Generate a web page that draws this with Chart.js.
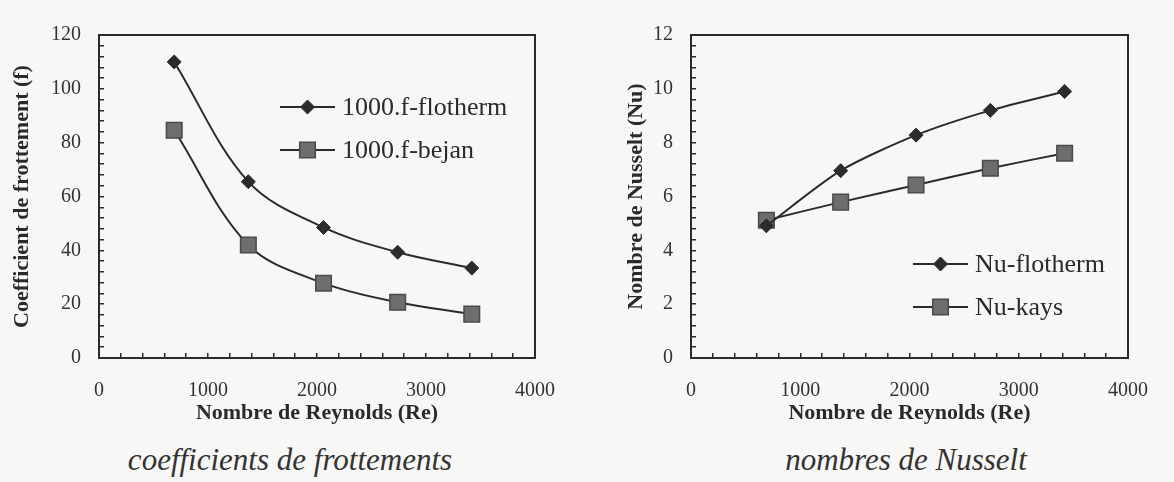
<!DOCTYPE html>
<html><head><meta charset="utf-8">
<script src="https://cdn.jsdelivr.net/npm/chart.js@4/dist/chart.umd.min.js"></script>
<style>
html,body{margin:0;padding:0;background:#f7f7f5;}
body{width:1174px;height:482px;position:relative;overflow:hidden;font-family:"Liberation Serif",serif;}
.wrap{position:absolute;top:0;width:587px;height:440px;}
.cap{position:absolute;top:440px;font-style:italic;font-size:31px;color:#333;transform:translateX(-50%);white-space:nowrap;line-height:40px;}
</style></head>
<body>
<div class="wrap" style="left:0"><canvas id="c1"></canvas></div>
<div class="wrap" style="left:587px"><canvas id="c2"></canvas></div>
<div class="cap" style="left:290px">coefficients de frottements</div>
<div class="cap" style="left:906px">nombres de Nusselt</div>
<script>
// ---- data ----
const reynolds   = [690, 1370, 2060, 2740, 3420];
const fFlotherm  = [110, 65.5, 48.5, 39.3, 33.4];
const fBejan     = [84.6, 42, 27.8, 20.7, 16.3];
const nuFlotherm = [4.91, 6.96, 8.28, 9.2, 9.9];
const nuKays     = [5.12, 5.79, 6.43, 7.05, 7.61];
const seriesLeft  = ['1000.f-flotherm', '1000.f-bejan'];
const seriesRight = ['Nu-flotherm', 'Nu-kays'];
const xTickLabels = [0, 1000, 2000, 3000, 4000];
const yTickLabelsLeft  = [0, 20, 40, 60, 80, 100, 120];
const yTickLabelsRight = [0, 2, 4, 6, 8, 10, 12];

Chart.defaults.font.family = '"Liberation Serif", "Times New Roman", serif';
Chart.defaults.color = '#333';

const INK = '#2b2b2b';
const GREY = '#6e6e6e';

function pts(ys){ return reynolds.map((x,i)=>({x, y: ys[i]})); }
function isIn(list, v){ return list.some(t => Math.abs(t - v) < 1e-6); }

function diamondSet(label, ys, tension){
  return {label, data: pts(ys), borderColor: INK, borderWidth: 2, tension,
    pointStyle:'rectRot', pointRadius:7, pointHoverRadius:7,
    pointBackgroundColor: INK, pointBorderColor: INK, pointBorderWidth:1, fill:false};
}
function squareSet(label, ys, tension){
  return {label, data: pts(ys), borderColor: INK, borderWidth: 2, tension,
    pointStyle:'rect', pointRadius:11, pointHoverRadius:11,
    pointBackgroundColor: GREY, pointBorderColor: '#4a4a4a', pointBorderWidth:1.5, fill:false};
}

const framePlugin = {
  id: 'frameLegend',
  afterDraw(chart, args, opts){
    const {ctx, chartArea:a} = chart;
    ctx.save();
    ctx.strokeStyle = INK; ctx.lineWidth = 2;
    ctx.strokeRect(a.left, a.top, a.right - a.left, a.bottom - a.top);
    const lg = opts.legend;
    chart.data.datasets.forEach((ds, i) => {
      const y = a.top + lg.y + i * lg.gap;
      const x1 = a.left + lg.x, x2 = x1 + lg.len, xm = (x1 + x2) / 2;
      ctx.strokeStyle = ds.borderColor; ctx.lineWidth = 2;
      ctx.beginPath(); ctx.moveTo(x1, y); ctx.lineTo(x2, y); ctx.stroke();
      ctx.fillStyle = ds.pointBackgroundColor; ctx.strokeStyle = ds.pointBorderColor;
      ctx.lineWidth = ds.pointBorderWidth;
      ctx.beginPath();
      if (ds.pointStyle === 'rectRot') {
        const r = ds.pointRadius;
        ctx.moveTo(xm - r, y); ctx.lineTo(xm, y - r); ctx.lineTo(xm + r, y); ctx.lineTo(xm, y + r); ctx.closePath();
      } else {
        const s = ds.pointRadius * Math.SQRT1_2;
        ctx.rect(xm - s, y - s, 2 * s, 2 * s);
      }
      ctx.fill(); ctx.stroke();
      ctx.fillStyle = '#2a2a2a';
      ctx.font = '26px "Liberation Serif", serif';
      ctx.textBaseline = 'middle'; ctx.textAlign = 'left';
      ctx.fillText(ds.label, x2 + 7, y + 1);
    });
    ctx.restore();
  }
};

function makeChart(id, datasets, cfg){
  return new Chart(document.getElementById(id), {
    type: 'line',
    data: { datasets },
    plugins: [framePlugin],
    options: {
      responsive: true, maintainAspectRatio: false, animation: false,
      layout: { padding: { top: 18, right: cfg.padRight, left: 0, bottom: 0 } },
      plugins: { legend: { display: false }, tooltip: { enabled: false },
                 frameLegend: { legend: cfg.legend } },
      scales: {
        x: {
          type: 'linear', position: 'bottom', min: 0, max: 4000,
          afterFit: s => { s.height = 82; },
          border: { display: false },
          grid: { drawOnChartArea: false, drawTicks: true, tickLength: -5, color: INK, lineWidth: 1.5 },
          ticks: { stepSize: 200, autoSkip: false, maxRotation: 0, padding: 26,
                   font: { size: 20 }, color: '#333',
                   callback: v => isIn(xTickLabels, v) ? String(v) : '' },
          title: { display: true, text: 'Nombre de Reynolds (Re)', color: '#2a2a2a',
                   font: { size: 22, weight: 'bold' }, padding: { top: 0, bottom: 13 } }
        },
        y: {
          type: 'linear', position: 'left', min: 0, max: cfg.yMax,
          afterFit: s => { s.width = cfg.yWidth; },
          border: { display: false },
          grid: { drawOnChartArea: false, drawTicks: true, tickLength: -5, color: INK, lineWidth: 1.5 },
          ticks: { stepSize: cfg.yStep, autoSkip: false, padding: 23,
                   font: { size: 20 }, color: '#333',
                   callback: v => isIn(cfg.yLabels, v) ? String(Math.round(v)) : '' },
          title: { display: true, text: cfg.yTitle, color: '#2a2a2a',
                   font: { size: 22, weight: 'bold' }, padding: { top: cfg.yTitlePad, bottom: 0 } }
        }
      }
    }
  });
}

makeChart('c1', [diamondSet(seriesLeft[0], fFlotherm, 0.35), squareSet(seriesLeft[1], fBejan, 0.35)], {
  padRight: 52, yMax: 120, yStep: 4, yWidth: 99, yLabels: yTickLabelsLeft,
  yTitle: 'Coefficient de frottement (f)', yTitlePad: 9,
  legend: { x: 181, y: 72, gap: 43, len: 55 }
});
makeChart('c2', [diamondSet(seriesRight[0], nuFlotherm, 0.25), squareSet(seriesRight[1], nuKays, 0.25)], {
  padRight: 30, yMax: 12, yStep: 0.4, yWidth: 104, yLabels: yTickLabelsRight,
  yTitle: 'Nombre de Nusselt (Nu)', yTitlePad: 36,
  legend: { x: 222, y: 229, gap: 43, len: 55 }
});
</script>
</body></html>
